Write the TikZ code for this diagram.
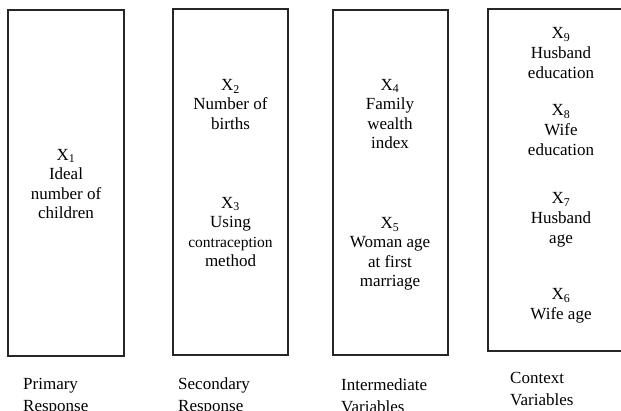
\documentclass[tikz,border=0pt]{standalone}
\usepackage{fontspec}
\setmainfont{Liberation Serif}
\begin{document}
\begin{tikzpicture}[x=1pt,y=-1pt,
  panel/.style={draw=black!85,line width=1.1pt},
  vartext/.style={align=center,inner sep=0pt,font=\fontsize{17}{19.5}\selectfont},
  vartextb/.style={align=center,inner sep=0pt,font=\fontsize{17}{20}\selectfont},
  caption/.style={align=left,inner sep=0pt,anchor=base west,font=\fontsize{17}{21.5}\selectfont}]
\useasboundingbox (0,0) rectangle (621,411);
\clip (0,0) rectangle (621,411);
% boxes
\draw[panel] (8,10) rectangle (124,356);
\draw[panel] (173,9) rectangle (288,355);
\draw[panel] (333,10) rectangle (448,355);
\draw[panel] (488,9) rectangle (634,351);
% box 1
\node[vartext] (x1) at (66,184) {X\textsubscript{1}\\Ideal\\number of\\children};
% box 2
\node[vartext] (x2) at (230.5,104.5) {X\textsubscript{2}\\Number of\\births};
\node[vartext] (x3) at (230.5,232) {X\textsubscript{3}\\Using\\{\fontsize{15.5}{19.5}\selectfont contraception}\\method};
% box 3
\node[vartext] (x4) at (390,114) {X\textsubscript{4}\\Family\\wealth\\index};
\node[vartext] (x5) at (390,254) {X\textsubscript{5}\\Woman age\\at first\\marriage};
% box 4
\node[vartextb] (x9) at (561,53) {X\textsubscript{9}\\Husband\\education};
\node[vartextb] (x8) at (561,130) {X\textsubscript{8}\\Wife\\education};
\node[vartextb] (x7) at (561,220) {X\textsubscript{7}\\Husband\\age};
\node[vartextb] (x6) at (561,306) {X\textsubscript{6}\\Wife age};
% captions (anchored at the baseline of their last line)
\node[caption] (c1) at (23,411) {Primary\\Response};
\node[caption] (c2) at (178,411) {Secondary\\Response};
\node[caption] (c3) at (341,412) {Intermediate\\Variables};
\node[caption] (c4) at (510,405) {Context\\Variables};
\end{tikzpicture}
\end{document}
